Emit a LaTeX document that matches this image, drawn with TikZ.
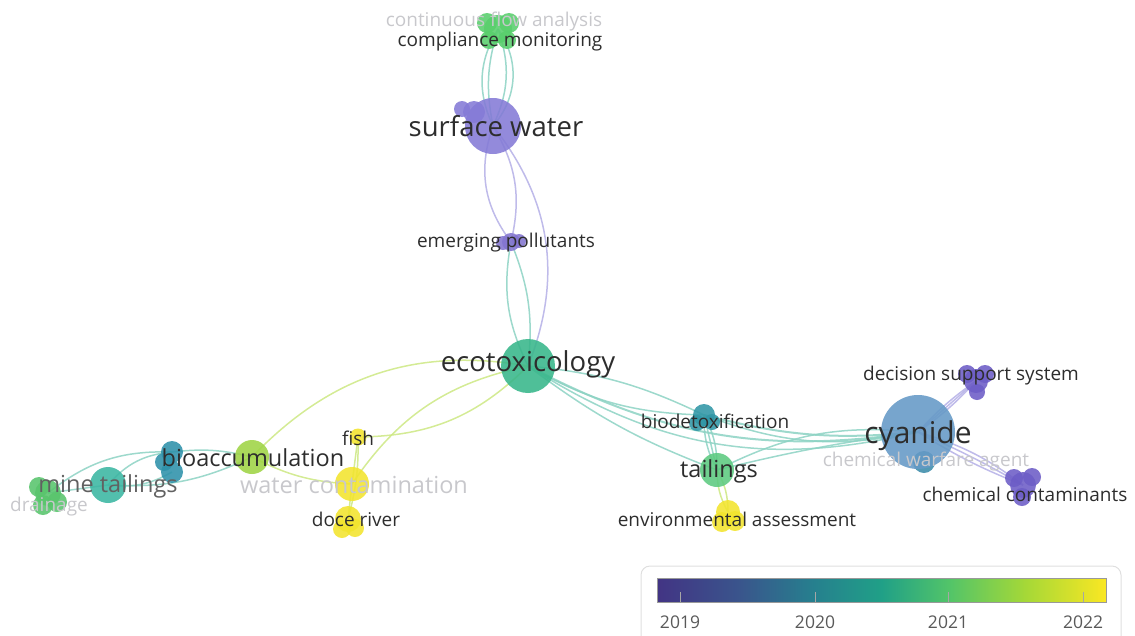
\documentclass[tikz,border=0pt]{standalone}
\usepackage{fontspec}
\setmainfont{Open Sans}
\usetikzlibrary{backgrounds}

% node colours (viridis, by average publication year)
\definecolor{labgray}{RGB}{45,45,45}
\definecolor{fadegray}{RGB}{200,200,204}
\definecolor{swpurple}{RGB}{132,122,214}
\definecolor{darkpurple}{RGB}{108,92,198}
\definecolor{cmgreen}{RGB}{88,206,108}
\definecolor{ecogreen}{RGB}{55,182,138}
\definecolor{bdteal}{RGB}{48,150,166}
\definecolor{tlgreen}{RGB}{92,202,128}
\definecolor{cyblue}{RGB}{100,153,198}
\definecolor{cwteal}{RGB}{60,140,170}
\definecolor{bagreen}{RGB}{158,212,68}
\definecolor{btteal}{RGB}{45,145,170}
\definecolor{mtteal}{RGB}{58,182,162}
\definecolor{drgreen}{RGB}{88,196,108}
\definecolor{yel}{RGB}{242,228,45}
\definecolor{tealedge}{RGB}{140,210,195}
\definecolor{purpedge}{RGB}{180,175,230}
\definecolor{yelledge}{RGB}{205,232,130}

% colour bar
\definecolor{vir0}{RGB}{66,52,132}
\definecolor{vir1}{RGB}{58,84,140}
\definecolor{vir2}{RGB}{38,128,142}
\definecolor{vir3}{RGB}{32,160,135}
\definecolor{vir4}{RGB}{82,196,105}
\definecolor{vir5}{RGB}{165,216,55}
\definecolor{vir6}{RGB}{250,231,35}
\pgfdeclarehorizontalshading{viridis}{100bp}{color(0bp)=(vir0); color(25bp)=(vir0);
  color(34bp)=(vir1); color(42.5bp)=(vir2); color(50bp)=(vir3); color(57.5bp)=(vir4);
  color(66bp)=(vir5); color(75bp)=(vir6); color(100bp)=(vir6)}

\begin{document}
\begin{tikzpicture}[
    x=1pt, y=1pt,
    bub/.style={circle, inner sep=0pt, fill opacity=0.88},
    lab/.style={inner sep=0pt, text=labgray, font=\fontsize{19}{21}\selectfont},
    midlab/.style={lab, font=\fontsize{23.5}{25}\selectfont},
    biglab/.style={lab, font=\fontsize{27.5}{29}\selectfont},
    faint/.style={lab, text=fadegray},
    link/.style={line width=1.5pt, draw=tealedge, draw opacity=0.85},
    plink/.style={link, draw=purpedge},
    ylink/.style={link, draw=yelledge},
    tick/.style={draw=gray!70, line width=0.8pt},
    year/.style={inner sep=0pt, text=black!65, font=\fontsize{17.5}{19}\selectfont}
]
\useasboundingbox (0,0) rectangle (1135,-635);

% --- Bubbles ---
% Top column
\node (cm) at (498,-29) [bub, fill=cmgreen, minimum size=28pt] {};
\node (cm2) at (487,-23) [bub, fill=cmgreen, minimum size=20pt] {};
\node (cm3) at (509,-23) [bub, fill=cmgreen, minimum size=20pt] {};
\node (cm4) at (489,-40) [bub, fill=cmgreen, minimum size=18pt] {};
\node (cm5) at (507,-40) [bub, fill=cmgreen, minimum size=18pt] {};
\node (sw) at (493,-126) [bub, fill=swpurple, minimum size=56pt] {};
\node (sw2) at (474,-112) [bub, fill=swpurple, minimum size=22pt] {};
\node (sw3) at (462,-109) [bub, fill=swpurple, minimum size=16pt] {};
\node (ep) at (511,-242) [bub, fill=darkpurple!85, minimum size=18pt] {};
\node (ep2) at (503,-243) [bub, fill=darkpurple!85, minimum size=14pt] {};
\node (ep3) at (519,-241) [bub, fill=darkpurple!85, minimum size=14pt] {};
\node (eco) at (528,-366) [bub, fill=ecogreen, minimum size=54pt] {};

% Right branch
\node (bd) at (704,-415) [bub, fill=bdteal, minimum size=22pt] {};
\node (bd2) at (697,-423) [bub, fill=bdteal, minimum size=16pt] {};
\node (bd3) at (712,-422) [bub, fill=bdteal, minimum size=16pt] {};
\node (tl) at (717,-470) [bub, fill=tlgreen, minimum size=34pt] {};
\node (ea) at (728,-512) [bub, fill=yel, minimum size=24pt] {};
\node (ea2) at (722,-522) [bub, fill=yel, minimum size=20pt] {};
\node (ea3) at (735,-521) [bub, fill=yel, minimum size=20pt] {};
\node (cw) at (924,-462) [bub, fill=cwteal, minimum size=22pt] {};
\node (cy) at (918,-432) [bub, fill=cyblue, minimum size=74pt] {};
\node (ds) at (976,-381) [bub, fill=darkpurple, minimum size=24pt] {};
\node (ds2) at (967,-374) [bub, fill=darkpurple, minimum size=18pt] {};
\node (ds3) at (985,-374) [bub, fill=darkpurple, minimum size=18pt] {};
\node (ds4) at (977,-392) [bub, fill=darkpurple, minimum size=16pt] {};
\node (cc) at (1023,-485) [bub, fill=darkpurple, minimum size=26pt] {};
\node (cc2) at (1014,-478) [bub, fill=darkpurple, minimum size=18pt] {};
\node (cc3) at (1032,-477) [bub, fill=darkpurple, minimum size=18pt] {};
\node (cc4) at (1022,-497) [bub, fill=darkpurple, minimum size=18pt] {};

% Left branch
\node (ba) at (252,-457) [bub, fill=bagreen, minimum size=34pt] {};
\node (bt) at (172,-452) [bub, fill=btteal, minimum size=22pt] {};
\node (bt2) at (172,-472) [bub, fill=btteal, minimum size=22pt] {};
\node (bt3) at (164,-462) [bub, fill=btteal, minimum size=18pt] {};
\node (mt) at (108,-485) [bub, fill=mtteal, minimum size=36pt] {};
\node (dr) at (48,-493) [bub, fill=drgreen, minimum size=26pt] {};
\node (dr2) at (39,-487) [bub, fill=drgreen, minimum size=20pt] {};
\node (dr3) at (57,-502) [bub, fill=drgreen, minimum size=20pt] {};
\node (dr4) at (43,-505) [bub, fill=drgreen, minimum size=20pt] {};
\node (fi) at (358,-437) [bub, fill=yel, minimum size=17pt] {};
\node (wc) at (352,-484) [bub, fill=yel, minimum size=34pt] {};
\node (dc) at (348,-519) [bub, fill=yel, minimum size=26pt] {};
\node (dc2) at (342,-529) [bub, fill=yel, minimum size=18pt] {};
\node (dc3) at (355,-528) [bub, fill=yel, minimum size=18pt] {};

% --- Labels ---
\node (cm_l0) at (494,-22) [faint] {continuous flow analysis};
\node (cm_l) at (500,-42) [lab] {compliance monitoring};
\node (sw_l) at (496,-126) [biglab] {surface water};
\node (ep_l) at (506,-243) [lab] {emerging pollutants};
\node (eco_l) at (528,-364) [biglab] {ecotoxicology};
\node (bd_l) at (715,-421) [lab] {biodetoxification};
\node (tl_l) at (719,-471) [midlab] {tailings};
\node (ea_l) at (737,-519) [lab] {environmental assessment};
\node (cw_l) at (926,-462) [faint] {chemical warfare agent};
\node (cy_l) at (918,-436) [lab, font=\fontsize{30}{32}\selectfont] {cyanide};
\node (ds_l) at (971,-376) [lab] {decision support system};
\node (cc_l) at (1025,-494) [lab] {chemical contaminants};
\node (ba_l) at (253,-458) [midlab] {bioaccumulation};
\node (mt_l) at (108,-486) [midlab, text=black!62] {mine tailings};
\node (dr_l) at (49,-507) [faint] {drainage};
\node (fi_l) at (358,-438) [lab] {fish};
\node (wc_l) at (354,-485) [midlab, text=fadegray] {water contamination};
\node (dc_l) at (356,-519) [lab] {doce river};

% --- Links ---
\begin{pgfonlayer}{background}
% top column
\draw [link] (cm.center) to[bend right=28] (sw.center);
\draw [link] (cm.center) to[bend right=14] (sw.center);
\draw [link] (cm.center) to[bend left=22] (sw.center);
\draw [link] (cm.center) to[bend left=38] (sw.center);
\draw [plink] (sw.center) to[bend right=28] (ep.center);
\draw [plink] (sw.center) to[bend left=22] (ep.center);
\draw [plink] (sw.center) to[bend left=30] (eco.center);
\draw [link] (ep.center) to[bend right=18] (eco.center);
\draw [link] (ep.center) to[bend left=14] (eco.center);

% ecotoxicology to the left branch
\draw [ylink] (eco.center) to[bend right=28] (ba.center);
\draw [ylink] (eco.center) to[bend left=22] (fi.center);
\draw [ylink] (eco.center) to[bend right=22] (wc.center);
\draw [ylink] (ba.center) to[bend right=12] (wc.center);
\draw [ylink] (fi.center) -- (wc.center);
\draw [ylink] (wc.center) -- (dc.center);
\draw [ylink] (fi.center) to[bend left=8] (dc.center);
\draw [link] (ba.center) to[bend right=10] (bt.center);
\draw [link] (ba.center) to[bend left=14] (mt.center);
\draw [link] (bt.center) to[bend right=22] (mt.center);
\draw [link] (bt2.center) to[bend left=18] (mt.center);
\draw [link] (mt.center) -- (dr.center);
\draw [link] (dr.center) to[bend left=20] (bt.center);

% ecotoxicology to the right branch
\draw [link] (eco.center) to[bend left=10] (bd.center);
\draw [link] (eco.center) to[bend right=8] (tl.center);
\draw [link, line width=2pt] (eco.center) to[bend right=18] (cy.center);
\draw [link] (eco.center) to[bend right=23] (cy.center);
\draw [link] (eco.center) to[bend right=14] (bd.center);
\draw [link, line width=2pt] (bd.center) to[bend right=10] (cy.center);
\draw [link] (bd.center) to[bend right=16] (cy.center);
\draw [link] (tl.center) to[bend left=16] (cy.center);
\draw [link] (tl.center) to[bend left=3] (cy.center);
\draw [link] (bd.center) to[bend left=14] (tl.center);
\draw [link] (bd.center) -- (tl.center);
\draw [link] (bd.center) to[bend right=14] (tl.center);
\draw [ylink] (tl.center) to[bend left=14] (ea.center);
\draw [ylink] (tl.center) to[bend right=14] (ea.center);
\draw [plink] (cy.center) to[bend left=6] (ds.center);
\draw [plink] (cy.center) -- (ds.center);
\draw [plink] (cy.center) to[bend right=6] (ds.center);
\draw [plink] (cy.center) to[bend left=10] (cc.center);
\draw [plink] (cy.center) to[bend left=3] (cc.center);
\draw [plink] (cy.center) to[bend right=5] (cc.center);
\end{pgfonlayer}

% --- Colour bar ---
\draw [draw=gray!25, line width=1pt, rounded corners=9pt] (641,-566) rectangle (1121,-645);
\node (bar) at (881.5,-590) [draw=gray!80, line width=0.8pt, shading=viridis, minimum width=449pt, minimum height=24pt, inner sep=0pt] {};
\foreach \yr/\px in {2019/680, 2020/815, 2021/948, 2022/1083} {
  \draw [tick] (\px,-592) -- (\px,-602);
  \node (yr\yr) at (\px,-622) [year] {\yr};
}
\end{tikzpicture}
\end{document}
